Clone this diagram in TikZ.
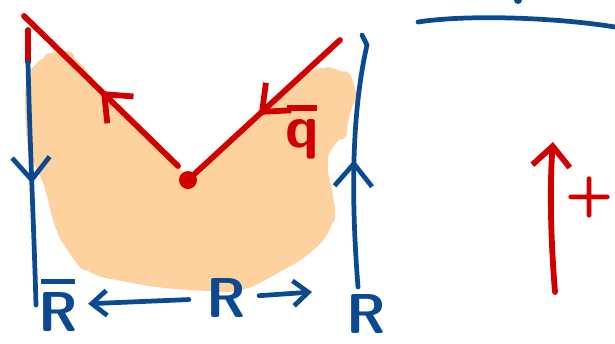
\documentclass[tikz,border=0pt]{standalone}
\usepackage{tikz}
\usetikzlibrary{positioning, arrows.meta, decorations.markings}
\definecolor{inkblue}{RGB}{11,73,145}
\definecolor{inkred}{RGB}{208,0,0}
\definecolor{peach}{RGB}{253,210,158}

\begin{document}
\begin{tikzpicture}[
  x=0.02cm, y=-0.02cm,
  blueline/.style={draw=inkblue, line width=2.7pt, line cap=round, line join=round},
  redline/.style={draw=inkred, line width=3.3pt, line cap=round, line join=round},
  midarrow/.style={postaction={decorate, decoration={markings,
    mark=at position #1 with {\arrow{Straight Barb[length=4.5mm, width=7.5mm]}}}}},
  lbl/.style={font=\fontsize{32}{34}\selectfont\sffamily\bfseries, inner sep=0pt},
  >={Straight Barb[length=3mm, width=5mm]}
]
\useasboundingbox (0,0) rectangle (615,343);
% shaded region under the two lines
\fill[peach, draw=peach, line width=8pt, line join=round, rounded corners=10]
  (32,78) -- (50,60) -- (68,58) -- (100,100) -- (140,140) -- (172,165) -- (185,192)
  -- (200,185) -- (240,140) -- (280,108) -- (305,82) -- (325,73) -- (345,80) -- (350,95)
  -- (340,115) -- (340,130) -- (325,140) -- (318,165) -- (328,200) -- (328,225)
  -- (305,250) -- (240,286) -- (160,281) -- (90,268) -- (75,250) -- (60,225)
  -- (55,195) -- (45,168) -- (34,150) -- (32,110) -- cycle;

\node[circle, fill=inkred, inner sep=0pt, minimum size=0.36cm] (vtx) at (188,180) {};
\coordinate (lend) at (178,166);
\coordinate (ltip) at (24,16);
\coordinate (rtop) at (340,40);
\coordinate (ltop) at (28,62);
\coordinate (lbot) at (36,305);
\coordinate (rbot) at (358,287);
\coordinate (rtip) at (312,292);

\node[lbl, text=inkred, font=\fontsize{34}{36}\selectfont\sffamily\bfseries] (qbar) at (302,132)
  {\shortstack{\rule{0.5em}{0.09em}\\[0.05em]q}};
\node[lbl, text=inkblue] (rbar) at (58,305) {\shortstack{\rule{0.6em}{0.09em}\\[0.05em]R}};
\node[lbl, text=inkblue] (rmid) at (226,298) {R};
\node[lbl, text=inkblue] (rright) at (366,314) {R};
\node[lbl, text=inkred] (plus) at (590,197) {+};

% red lines meeting at the dot
\draw[redline, midarrow=0.5] (lend) -- (ltip);
\draw[redline] (28,30) -- (ltop);
\draw[redline, midarrow=0.56] (rtop) -- (vtx);
% blue sides
\draw[blueline, midarrow=0.5] (ltop) .. controls (30,150) and (34,230) .. (lbot);
\draw[blueline, midarrow=0.5] (rbot) .. controls (352,210) and (350,120) .. (367,45) -- (362,35);
% bottom arrows
\draw[blueline, ->, shorten <=3.4mm, shorten >=2mm] (rmid) -- (rbar);
\draw[blueline, ->, shorten <=2.6mm] (rmid) -- (rtip);
% right part
\draw[blueline] (418,22) .. controls (470,14) and (560,18) .. (615,27);
\fill[inkblue] (518,0) circle (4);
\draw[redline, -{Straight Barb[length=4mm, width=7.5mm]}] (555,292) .. controls (550,230) and (550,180) .. (553,142);
\end{tikzpicture}
\end{document}
